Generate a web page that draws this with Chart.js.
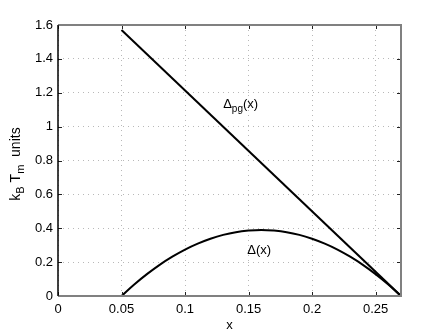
<!DOCTYPE html>
<html>
<head>
<meta charset="utf-8">
<script src="https://cdn.jsdelivr.net/npm/chart.js@4/dist/chart.umd.min.js"></script>
<style>
  html, body { margin: 0; padding: 0; background: #fff; }
  #wrap { width: 443px; height: 333px; }
</style>
</head>
<body>
<div id="wrap"><canvas id="c" width="443" height="333"></canvas></div>
<script>
// values
const xTicks = [0, 0.05, 0.1, 0.15, 0.2, 0.25];
const yTicks = [0, 0.2, 0.4, 0.6, 0.8, 1, 1.2, 1.4, 1.6];
const pgX = [0.05, 0.27];
const pgY = [1.57, 0];
const gapX = [0.05, 0.06, 0.07, 0.08, 0.09, 0.10, 0.11, 0.12, 0.13, 0.14, 0.15, 0.16,
              0.17, 0.18, 0.19, 0.20, 0.21, 0.22, 0.23, 0.24, 0.25, 0.26, 0.27];
const gapY = [0, 0.068, 0.129, 0.184, 0.232, 0.274, 0.309, 0.338, 0.361, 0.377, 0.386, 0.390,
              0.386, 0.377, 0.361, 0.338, 0.309, 0.274, 0.232, 0.184, 0.129, 0.068, 0];
const font = '"Liberation Sans", Arial, Helvetica, sans-serif';

const pts = (xs, ys) => xs.map((x, i) => ({ x: x, y: ys[i] }));

// text with subscripts: parts = [[text, isSub], ...]
function drawParts(ctx, parts, x, y, big, small) {
  let cx = x;
  parts.forEach(([t, sub]) => {
    ctx.font = (sub ? small : big) + 'px ' + font;
    ctx.fillText(t, cx, sub ? y + 5 : y);
    cx += ctx.measureText(t).width;
  });
}

const decor = {
  id: 'decor',
  afterDraw(chart) {
    const ctx = chart.ctx, a = chart.chartArea;
    const xs = chart.scales.x, ys = chart.scales.y;
    ctx.save();
    // inward ticks
    ctx.strokeStyle = '#222';
    ctx.lineWidth = 1;
    ctx.beginPath();
    xTicks.forEach(v => {
      const p = Math.round(xs.getPixelForValue(v)) + 0.5;
      ctx.moveTo(p, a.bottom); ctx.lineTo(p, a.bottom - 4);
      ctx.moveTo(p, a.top); ctx.lineTo(p, a.top + 4);
    });
    yTicks.forEach(v => {
      const p = Math.round(ys.getPixelForValue(v)) + 0.5;
      ctx.moveTo(a.left, p); ctx.lineTo(a.left + 4, p);
      ctx.moveTo(a.right, p); ctx.lineTo(a.right - 4, p);
    });
    ctx.stroke();
    // box
    ctx.strokeStyle = '#808080';
    ctx.lineWidth = 2;
    ctx.beginPath();
    ctx.moveTo(a.left, a.top); ctx.lineTo(a.right, a.top);
    ctx.lineTo(a.right, a.bottom); ctx.lineTo(a.left, a.bottom);
    ctx.stroke();
    ctx.strokeStyle = '#000';
    ctx.lineWidth = 1.5;
    ctx.beginPath();
    ctx.moveTo(a.left, a.top); ctx.lineTo(a.left, a.bottom);
    ctx.stroke();

    // curve labels
    ctx.fillStyle = '#000';
    ctx.textBaseline = 'middle';
    ctx.textAlign = 'left';
    drawParts(ctx, [['\u0394', false], ['pg', true], ['(x)', false]],
      xs.getPixelForValue(0.13), ys.getPixelForValue(1.13), 13, 10);
    drawParts(ctx, [['\u0394(x)', false]],
      xs.getPixelForValue(0.149), ys.getPixelForValue(0.27), 13, 10);

    // y title
    ctx.translate(16, 164);
    ctx.rotate(-Math.PI / 2);
    const parts = [['k', false], ['B', true], [' T', false], ['m', true], ['  units', false]];
    let w = 0;
    parts.forEach(([t, sub]) => { ctx.font = (sub ? 11 : 14) + 'px ' + font; w += ctx.measureText(t).width; });
    drawParts(ctx, parts, -w / 2, 0, 14, 11);
    ctx.restore();
  }
};

new Chart(document.getElementById('c'), {
  type: 'line',
  data: {
    datasets: [
      { data: pts(pgX, pgY), borderColor: '#000', borderWidth: 2, pointRadius: 0, tension: 0 },
      { data: pts(gapX, gapY), borderColor: '#000', borderWidth: 2, pointRadius: 0, tension: 0.4 }
    ]
  },
  options: {
    responsive: false,
    animation: false,
    layout: { padding: { left: 0, top: 25, right: 42, bottom: 0 } },
    plugins: { legend: { display: false }, tooltip: { enabled: false } },
    scales: {
      x: {
        type: 'linear', min: 0, max: 0.27,
        afterBuildTicks: s => { s.ticks = xTicks.map(v => ({ value: v })); },
        afterFit: s => { s.height = 37; },
        grid: { color: '#b8b8b8', drawTicks: false },
        border: { display: false, dash: [1, 4] },
        ticks: { color: '#000', padding: 6, font: { family: font, size: 13 },
                 callback: v => String(v) },
        title: { display: true, text: 'x', color: '#000', padding: 0,
                 font: { family: font, size: 13 } }
      },
      y: {
        min: 0, max: 1.6,
        afterBuildTicks: s => { s.ticks = yTicks.map(v => ({ value: v })); },
        afterFit: s => { s.width = 58; },
        grid: { color: '#b8b8b8', drawTicks: false },
        border: { display: false, dash: [1, 4] },
        ticks: { color: '#000', padding: 5, font: { family: font, size: 13 },
                 callback: v => String(v) }
      }
    }
  },
  plugins: [decor]
});
</script>
</body>
</html>
